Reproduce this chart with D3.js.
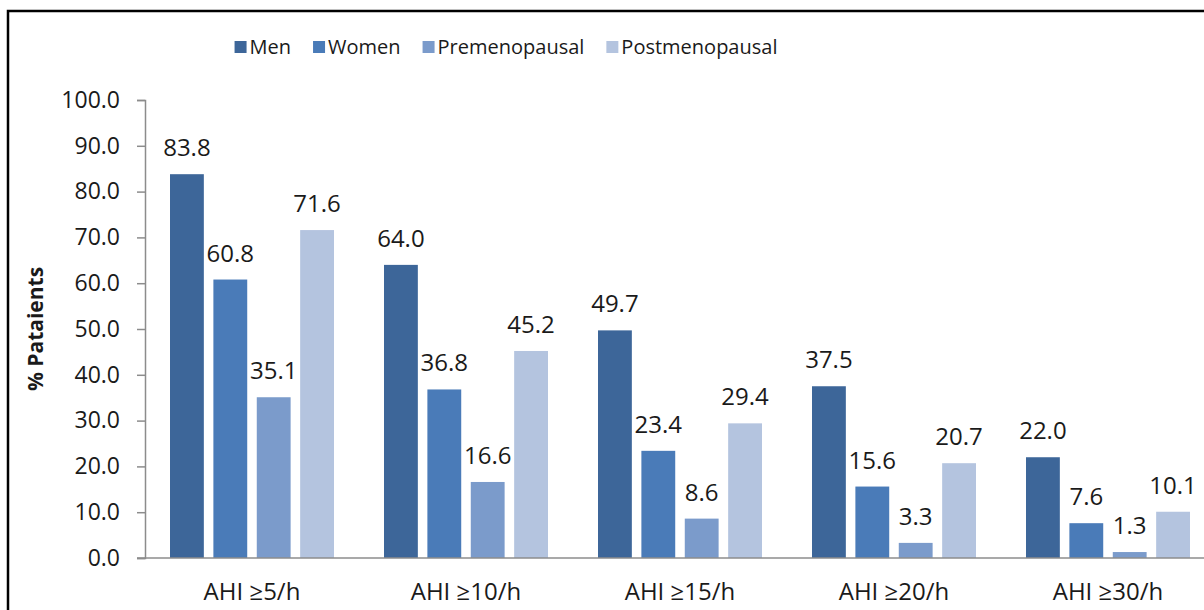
<!DOCTYPE html>
<html>
<head>
<meta charset="utf-8">
<script src="https://cdn.jsdelivr.net/npm/d3@7"></script>
<style>
  body { margin: 0; background: #fff; }
  text { font-family: "Open Sans", "Noto Sans", sans-serif; fill: #1a1a1a; }
</style>
</head>
<body>
<script>
let width = 1204;
let height = 610;

let categories = ['AHI \u22655/h', 'AHI \u226510/h', 'AHI \u226515/h', 'AHI \u226520/h', 'AHI \u226530/h'];
let seriesNames = ['Men', 'Women', 'Premenopausal', 'Postmenopausal'];
let men = [83.8, 64.0, 49.7, 37.5, 22.0];
let women = [60.8, 36.8, 23.4, 15.6, 7.6];
let premenopausal = [35.1, 16.6, 8.6, 3.3, 1.3];
let postmenopausal = [71.6, 45.2, 29.4, 20.7, 10.1];
let yTicks = [0, 10, 20, 30, 40, 50, 60, 70, 80, 90, 100];
let colors = ['#3d6699', '#4a7bb8', '#7b9bcb', '#b4c4df'];

let series = [men, women, premenopausal, postmenopausal];

let svg = d3.select('body')
.append('svg')
.attr('width', width)
.attr('height', height);

// outer frame, cut off at right and bottom like the source
svg.append('rect')
.attr('x', 8)
.attr('y', 11)
.attr('width', 1230)
.attr('height', 640)
.attr('fill', 'none')
.attr('stroke', '#000')
.attr('stroke-width', 2.5);

let x0 = d3.scaleBand()
.domain(categories)
.range([145, 1215])
.paddingInner(0)
.paddingOuter(0);

let x1 = d3.scaleBand()
.domain(seriesNames)
.range([25, x0.bandwidth() - 25])
.paddingInner(0.22)
.paddingOuter(0);

let y = d3.scaleLinear()
.domain([0, 100])
.range([558, 100]);

// y axis
let yAxis = svg.append('g')
.attr('transform', 'translate(145,0)')
.call(d3.axisLeft(y).tickValues(yTicks).tickSize(8).tickPadding(17).tickFormat(d3.format('.1f')));
yAxis.select('.domain').attr('stroke', '#8c8c8c').attr('stroke-width', 1.5);
yAxis.selectAll('.tick line').attr('stroke', '#8c8c8c').attr('stroke-width', 1.5);
yAxis.selectAll('.tick text')
.attr('font-size', 23)
.attr('fill', '#1a1a1a')
.style('font-family', '"Open Sans", sans-serif');

// bars
let groups = svg.append('g')
.selectAll('g')
.data(categories)
.enter()
.append('g')
.attr('transform', function(d){ return 'translate(' + x0(d) + ',0)'; });

groups.selectAll('rect')
.data(function(d, i){
    return seriesNames.map(function(s, j){ return {name: s, value: series[j][i], idx: j}; });
})
.enter()
.append('rect')
.attr('x', function(d){ return x1(d.name); })
.attr('y', function(d){ return y(d.value); })
.attr('width', x1.bandwidth())
.attr('height', function(d){ return y(0) - y(d.value); })
.attr('fill', function(d){ return colors[d.idx]; });

groups.selectAll('text.val')
.data(function(d, i){
    return seriesNames.map(function(s, j){ return {name: s, value: series[j][i]}; });
})
.enter()
.append('text')
.attr('class', 'val')
.attr('x', function(d){ return x1(d.name) + x1.bandwidth() / 2; })
.attr('y', function(d){ return y(d.value) - 18; })
.attr('text-anchor', 'middle')
.attr('font-size', 24)
.text(function(d){ return d.value.toFixed(1); });

// baseline across the plot
svg.append('line')
.attr('x1', 137)
.attr('x2', 1215)
.attr('y1', y(0))
.attr('y2', y(0))
.attr('stroke', '#8c8c8c')
.attr('stroke-width', 1.5);

// category labels
svg.append('g')
.selectAll('text')
.data(categories)
.enter()
.append('text')
.attr('x', function(d){ return x0(d) + x0.bandwidth() / 2; })
.attr('y', 600)
.attr('text-anchor', 'middle')
.attr('font-size', 24)
.text(function(d){ return d; });

// y title
svg.append('text')
.attr('transform', 'translate(43,329) rotate(-90)')
.attr('text-anchor', 'middle')
.attr('font-size', 21)
.attr('font-weight', 'bold')
.text('% Pataients');

// legend
let legend = svg.append('g');
let lx = 0;
seriesNames.forEach(function(s, i){
    let item = legend.append('g').attr('transform', 'translate(' + lx + ',0)');
    item.append('rect')
    .attr('x', 0)
    .attr('y', -13)
    .attr('width', 12)
    .attr('height', 12)
    .attr('fill', colors[i]);
    let t = item.append('text')
    .attr('x', 15)
    .attr('y', 0)
    .attr('font-size', 20)
    .text(s);
    lx += 15 + t.node().getComputedTextLength() + 22;
});
let legendWidth = lx - 22;
legend.attr('transform', 'translate(' + (506 - legendWidth / 2) + ',54)');
</script>
</body>
</html>
